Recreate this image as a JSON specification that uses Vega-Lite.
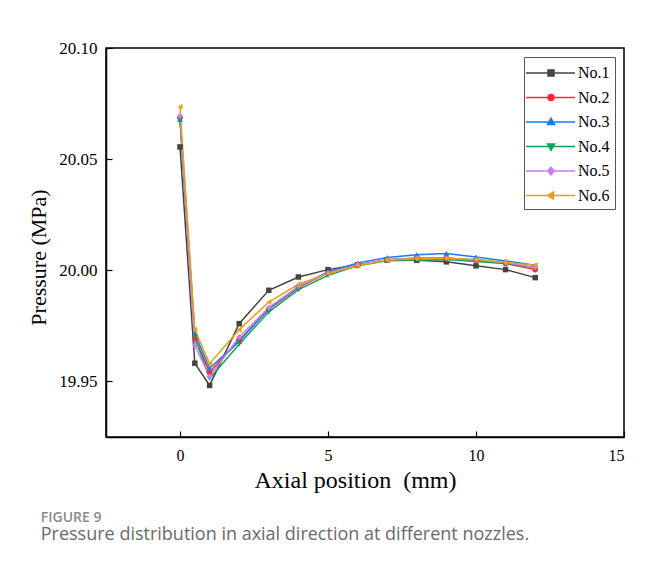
{
  "$schema": "https://vega.github.io/schema/vega-lite/v6.json",
  "autosize": {"type": "none"},
  "width": 518,
  "height": 389,
  "padding": {"left": 106, "top": 48, "right": 22, "bottom": 131},
  "background": "white",
  "title": {
    "text": "FIGURE 9",
    "subtitle": "Pressure distribution in axial direction at different nozzles.",
    "orient": "bottom",
    "anchor": "start",
    "frame": "bounds",
    "dx": 13,
    "offset": 19,
    "font": "Open Sans",
    "fontSize": 14,
    "fontWeight": 600,
    "color": "#8a8a8a",
    "subtitleFont": "Open Sans",
    "subtitleFontSize": 18,
    "subtitleColor": "#6a6a6a",
    "subtitlePadding": 1
  },
  "data": {
    "values": [
      {"x": 0, "p": 20.0555, "s": "No.1"}, {"x": 0.5, "p": 19.9582, "s": "No.1"}, {"x": 1, "p": 19.9482, "s": "No.1"}, {"x": 2, "p": 19.976, "s": "No.1"}, {"x": 3, "p": 19.991, "s": "No.1"}, {"x": 4, "p": 19.997, "s": "No.1"}, {"x": 5, "p": 20.0003, "s": "No.1"}, {"x": 6, "p": 20.0025, "s": "No.1"}, {"x": 7, "p": 20.0045, "s": "No.1"}, {"x": 8, "p": 20.0045, "s": "No.1"}, {"x": 9, "p": 20.0038, "s": "No.1"}, {"x": 10, "p": 20.002, "s": "No.1"}, {"x": 11, "p": 20.0003, "s": "No.1"}, {"x": 12, "p": 19.9967, "s": "No.1"},
      {"x": 0, "p": 20.0688, "s": "No.2"}, {"x": 0.5, "p": 19.9694, "s": "No.2"}, {"x": 1, "p": 19.9542, "s": "No.2"}, {"x": 2, "p": 19.9685, "s": "No.2"}, {"x": 3, "p": 19.9825, "s": "No.2"}, {"x": 4, "p": 19.9922, "s": "No.2"}, {"x": 5, "p": 19.9988, "s": "No.2"}, {"x": 6, "p": 20.0022, "s": "No.2"}, {"x": 7, "p": 20.0047, "s": "No.2"}, {"x": 8, "p": 20.0055, "s": "No.2"}, {"x": 9, "p": 20.0055, "s": "No.2"}, {"x": 10, "p": 20.0045, "s": "No.2"}, {"x": 11, "p": 20.003, "s": "No.2"}, {"x": 12, "p": 20.0003, "s": "No.2"},
      {"x": 0, "p": 20.068, "s": "No.3"}, {"x": 0.5, "p": 19.9715, "s": "No.3"}, {"x": 1, "p": 19.9559, "s": "No.3"}, {"x": 2, "p": 19.968, "s": "No.3"}, {"x": 3, "p": 19.9828, "s": "No.3"}, {"x": 4, "p": 19.9925, "s": "No.3"}, {"x": 5, "p": 19.9993, "s": "No.3"}, {"x": 6, "p": 20.0033, "s": "No.3"}, {"x": 7, "p": 20.0057, "s": "No.3"}, {"x": 8, "p": 20.007, "s": "No.3"}, {"x": 9, "p": 20.0075, "s": "No.3"}, {"x": 10, "p": 20.006, "s": "No.3"}, {"x": 11, "p": 20.0042, "s": "No.3"}, {"x": 12, "p": 20.0023, "s": "No.3"},
      {"x": 0, "p": 20.0673, "s": "No.4"}, {"x": 0.5, "p": 19.97, "s": "No.4"}, {"x": 1, "p": 19.9513, "s": "No.4"}, {"x": 2, "p": 19.9667, "s": "No.4"}, {"x": 3, "p": 19.9813, "s": "No.4"}, {"x": 4, "p": 19.9913, "s": "No.4"}, {"x": 5, "p": 19.9977, "s": "No.4"}, {"x": 6, "p": 20.002, "s": "No.4"}, {"x": 7, "p": 20.0043, "s": "No.4"}, {"x": 8, "p": 20.0045, "s": "No.4"}, {"x": 9, "p": 20.0048, "s": "No.4"}, {"x": 10, "p": 20.004, "s": "No.4"}, {"x": 11, "p": 20.003, "s": "No.4"}, {"x": 12, "p": 20.0012, "s": "No.4"},
      {"x": 0, "p": 20.0694, "s": "No.5"}, {"x": 0.5, "p": 19.9662, "s": "No.5"}, {"x": 1, "p": 19.9522, "s": "No.5"}, {"x": 2, "p": 19.97, "s": "No.5"}, {"x": 3, "p": 19.9832, "s": "No.5"}, {"x": 4, "p": 19.9928, "s": "No.5"}, {"x": 5, "p": 19.9988, "s": "No.5"}, {"x": 6, "p": 20.0025, "s": "No.5"}, {"x": 7, "p": 20.0047, "s": "No.5"}, {"x": 8, "p": 20.0055, "s": "No.5"}, {"x": 9, "p": 20.0055, "s": "No.5"}, {"x": 10, "p": 20.0047, "s": "No.5"}, {"x": 11, "p": 20.0035, "s": "No.5"}, {"x": 12, "p": 20.0013, "s": "No.5"},
      {"x": 0, "p": 20.0736, "s": "No.6"}, {"x": 0.5, "p": 19.9733, "s": "No.6"}, {"x": 1, "p": 19.958, "s": "No.6"}, {"x": 2, "p": 19.9733, "s": "No.6"}, {"x": 3, "p": 19.9857, "s": "No.6"}, {"x": 4, "p": 19.9937, "s": "No.6"}, {"x": 5, "p": 19.9985, "s": "No.6"}, {"x": 6, "p": 20.002, "s": "No.6"}, {"x": 7, "p": 20.0045, "s": "No.6"}, {"x": 8, "p": 20.0053, "s": "No.6"}, {"x": 9, "p": 20.0053, "s": "No.6"}, {"x": 10, "p": 20.0049, "s": "No.6"}, {"x": 11, "p": 20.0035, "s": "No.6"}, {"x": 12, "p": 20.0023, "s": "No.6"}
    ]
  },
  "encoding": {
    "x": {
      "field": "x", "type": "quantitative",
      "scale": {"domain": [-2.5, 15], "nice": false, "zero": false},
      "axis": {
        "values": [0, 5, 10, 15],
        "title": "Axial position\u00a0 (mm)",
        "grid": false,
        "tickSize": -6,
        "labelPadding": 16,
        "labelFontSize": 16,
        "titleFontSize": 24,
        "titlePadding": 5,
        "titleX": 249
      }
    },
    "y": {
      "field": "p", "type": "quantitative",
      "scale": {"domain": [19.925, 20.1], "nice": false, "zero": false},
      "axis": {
        "values": [19.95, 20.0, 20.05, 20.1],
        "format": ".2f",
        "title": "Pressure (MPa)",
        "grid": false,
        "tickSize": -6,
        "labelPadding": 15,
        "labelFontSize": 17,
        "titleFontSize": 22,
        "titlePadding": 8,
        "titleY": 209
      }
    },
    "color": {
      "field": "s", "type": "nominal",
      "scale": {
        "domain": ["No.1", "No.2", "No.3", "No.4", "No.5", "No.6"],
        "range": ["#444444", "#ff2a2a", "#1e78f0", "#0fa060", "#c77ef0", "#e6a11a"]
      },
      "legend": {
        "title": null,
        "orient": "top-right",
        "offset": 9,
        "padding": 5,
        "strokeColor": "#555555",
        "fillColor": "white",
        "labelFont": "Liberation Serif",
        "labelFontSize": 16,
        "labelColor": "#000000",
        "labelOffset": 16,
        "symbolOffset": 11,
        "symbolSize": 400,
        "symbolStrokeWidth": 1.5,
        "symbolOpacity": 1,
        "rowPadding": 5.5,
        "symbolType": {"expr": "datum.value === 'No.1' ? 'M-2.5,0H2.4M-0.3,-0.3H0.3V0.3H-0.3Z' : datum.value === 'No.2' ? 'M-2.5,0H2.4M0.3,0A0.3,0.3 0 1,1 -0.3,0A0.3,0.3 0 1,1 0.3,0Z' : datum.value === 'No.3' ? 'M-2.5,0H2.4M0,-0.38L0.35,0.25H-0.35Z' : datum.value === 'No.4' ? 'M-2.5,0H2.4M0,0.38L0.35,-0.25H-0.35Z' : datum.value === 'No.5' ? 'M-2.5,0H2.4M0,-0.38L0.32,0L0,0.38L-0.32,0Z' : 'M-2.5,0H2.4M-0.38,0L0.25,-0.35V0.35Z'"},
        "symbolFillColor": {"expr": "scale('color', datum.value)"},
        "symbolStrokeColor": {"expr": "scale('color', datum.value)"}
      }
    }
  },
  "layer": [
    {"mark": {"type": "line", "strokeWidth": 1.5}},
    {"transform": [{"filter": "datum.s === 'No.1'"}], "mark": {"type": "point", "shape": "square", "filled": true, "size": 30, "opacity": 1}},
    {"transform": [{"filter": "datum.s === 'No.2'"}], "mark": {"type": "point", "shape": "circle", "filled": true, "size": 32, "opacity": 1}},
    {"transform": [{"filter": "datum.s === 'No.3'"}], "mark": {"type": "point", "shape": "triangle-up", "filled": true, "size": 34, "opacity": 1}},
    {"transform": [{"filter": "datum.s === 'No.4'"}], "mark": {"type": "point", "shape": "triangle-down", "filled": true, "size": 34, "opacity": 1}},
    {"transform": [{"filter": "datum.s === 'No.5'"}], "mark": {"type": "point", "shape": "diamond", "filled": true, "size": 34, "opacity": 1}},
    {"transform": [{"filter": "datum.s === 'No.6'"}], "mark": {"type": "point", "shape": "triangle-left", "filled": true, "size": 34, "opacity": 1}}
  ],
  "config": {
    "view": {"stroke": "#000000", "strokeWidth": 1.5},
    "axis": {
      "labelFont": "Liberation Serif",
      "titleFont": "Liberation Serif",
      "labelColor": "#000000",
      "titleColor": "#000000",
      "titleFontWeight": "normal",
      "domainColor": "#000000",
      "domainWidth": 1.5,
      "tickColor": "#000000",
      "tickWidth": 1.2
    }
  }
}
